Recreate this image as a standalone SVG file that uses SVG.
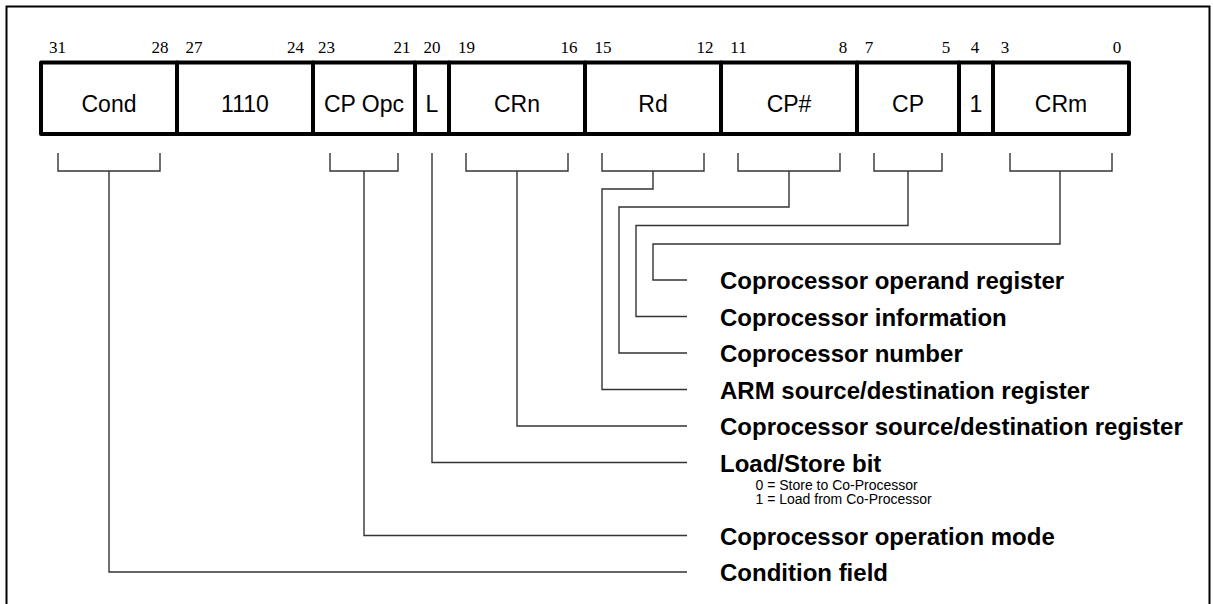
<svg xmlns="http://www.w3.org/2000/svg" width="1213" height="604" viewBox="0 0 1213 604">
<style>
.fld{fill:#fff;stroke:#000;stroke-width:4;stroke-linejoin:round}
.ft{font-family:"Liberation Sans",Arial,sans-serif;font-size:23px;text-anchor:middle;fill:#000}
.bn{font-family:"Liberation Serif","Times New Roman",serif;font-size:17px;text-anchor:middle;fill:#000}
.lb{font-family:"Liberation Sans",Arial,sans-serif;font-size:24px;font-weight:bold;fill:#000}
.sm{font-family:"Liberation Sans",Arial,sans-serif;font-size:14px;fill:#000}
.cn{fill:none;stroke:#333;stroke-width:1.4}
</style>
<rect x="0" y="0" width="1213" height="604" fill="#fff"/>
<path d="M6.5,620 V6.5 H1209.5 V620" fill="none" stroke="#000" stroke-width="2"/>
<g id="f-cond"><rect class="fld" x="41" y="62.5" width="136" height="71.5"/><text class="ft" x="109" y="112">Cond</text><text class="bn" x="57.5" y="53">31</text><text class="bn" x="160" y="53">28</text></g>
<g id="f-1110"><rect class="fld" x="177" y="62.5" width="136" height="71.5"/><text class="ft" x="245" y="112">1110</text><text class="bn" x="194" y="53">27</text><text class="bn" x="295.5" y="53">24</text></g>
<g id="f-cpopc"><rect class="fld" x="313" y="62.5" width="102" height="71.5"/><text class="ft" x="364" y="112">CP Opc</text><text class="bn" x="326.5" y="53">23</text><text class="bn" x="402" y="53">21</text></g>
<g id="f-l"><rect class="fld" x="415" y="62.5" width="34" height="71.5"/><text class="ft" x="432" y="112">L</text><text class="bn" x="432" y="53">20</text></g>
<g id="f-crn"><rect class="fld" x="449" y="62.5" width="136" height="71.5"/><text class="ft" x="517" y="112">CRn</text><text class="bn" x="466.5" y="53">19</text><text class="bn" x="569" y="53">16</text></g>
<g id="f-rd"><rect class="fld" x="585" y="62.5" width="136" height="71.5"/><text class="ft" x="653" y="112">Rd</text><text class="bn" x="603" y="53">15</text><text class="bn" x="705" y="53">12</text></g>
<g id="f-cpnum"><rect class="fld" x="721" y="62.5" width="136" height="71.5"/><text class="ft" x="789" y="112">CP#</text><text class="bn" x="738.5" y="53">11</text><text class="bn" x="843" y="53">8</text></g>
<g id="f-cp"><rect class="fld" x="857" y="62.5" width="102" height="71.5"/><text class="ft" x="908" y="112">CP</text><text class="bn" x="869" y="53">7</text><text class="bn" x="946" y="53">5</text></g>
<g id="f-one"><rect class="fld" x="959" y="62.5" width="34" height="71.5"/><text class="ft" x="976" y="112">1</text><text class="bn" x="975" y="53">4</text></g>
<g id="f-crm"><rect class="fld" x="993" y="62.5" width="136" height="71.5"/><text class="ft" x="1061" y="112">CRm</text><text class="bn" x="1005" y="53">3</text><text class="bn" x="1117" y="53">0</text></g>
<g id="connectors">
<path class="cn" d="M1010,153 V171 H1112 V153 M1060,171 V244 H653 V280 H687"/>
<path class="cn" d="M874,153 V171 H942 V153 M908,171 V225.5 H636 V316.5 H687"/>
<path class="cn" d="M738,153 V171 H840 V153 M789,171 V207 H619 V353 H687"/>
<path class="cn" d="M602,153 V171 H704 V153 M653,171 V189 H602 V389.5 H687"/>
<path class="cn" d="M466,153 V171 H568 V153 M517,171 V426 H687"/>
<path class="cn" d="M432,153 V462.5 H687"/>
<path class="cn" d="M330,153 V171 H398 V153 M364,171 V535.5 H687"/>
<path class="cn" d="M58,153 V171 H160 V153 M109,171 V572 H687"/>
</g>
<g id="l-crm"><text class="lb" x="720" y="289">Coprocessor operand register</text></g>
<g id="l-cp"><text class="lb" x="720" y="325.5">Coprocessor information</text></g>
<g id="l-cpnum"><text class="lb" x="720" y="362">Coprocessor number</text></g>
<g id="l-rd"><text class="lb" x="720" y="398.5">ARM source/destination register</text></g>
<g id="l-crn"><text class="lb" x="720" y="435">Coprocessor source/destination register</text></g>
<g id="l-l"><text class="lb" x="720" y="471.5">Load/Store bit</text><text class="sm" x="755.5" y="490">0 = Store to Co-Processor</text><text class="sm" x="755.5" y="504">1 = Load from Co-Processor</text></g>
<g id="l-cpopc"><text class="lb" x="720" y="544.5">Coprocessor operation mode</text></g>
<g id="l-cond"><text class="lb" x="720" y="581">Condition field</text></g>
</svg>
